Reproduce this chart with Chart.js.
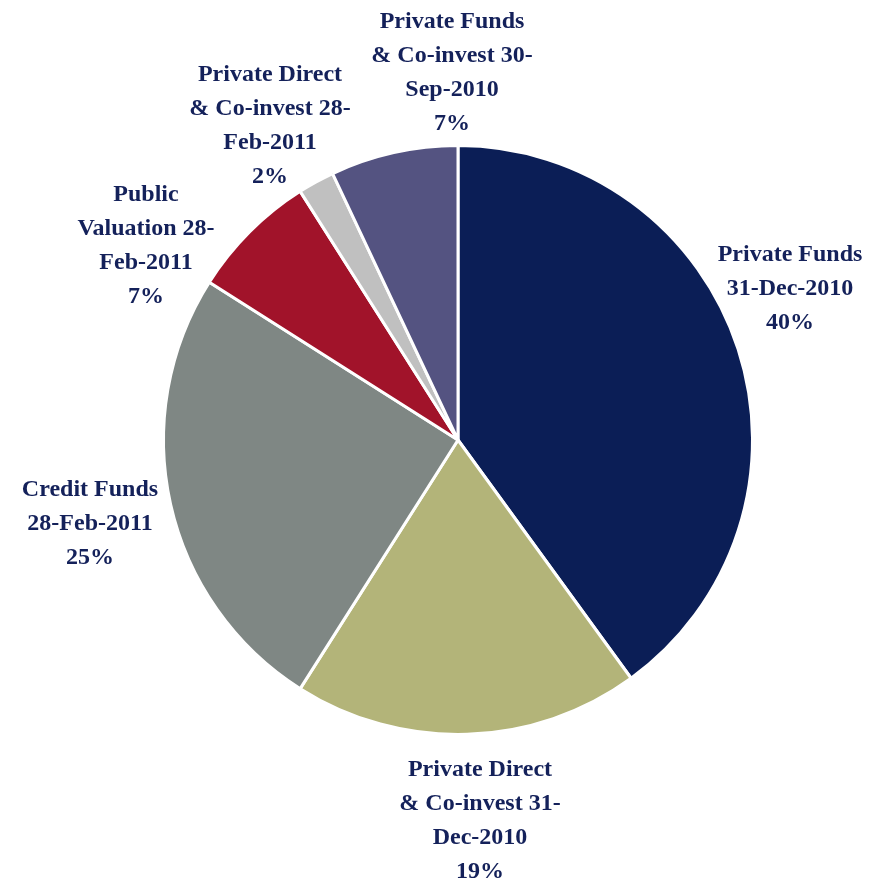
<!DOCTYPE html>
<html>
<head>
<meta charset="utf-8">
<script src="https://cdn.jsdelivr.net/npm/chart.js@4"></script>
<style>
  html, body { margin: 0; padding: 0; background: #fff; }
  #wrap { width: 876px; height: 881px; position: relative; }
</style>
</head>
<body>
<div id="wrap"><canvas id="grafico"></canvas></div>
<script>
// categorias (linhas do rótulo como no original)
const categorias = [
  ['Private Funds', '31-Dec-2010'],
  ['Private Direct', '& Co-invest 31-', 'Dec-2010'],
  ['Credit Funds', '28-Feb-2011'],
  ['Public', 'Valuation 28-', 'Feb-2011'],
  ['Private Direct', '& Co-invest 28-', 'Feb-2011'],
  ['Private Funds', '& Co-invest 30-', 'Sep-2010']
];
const percentuais = [40, 19, 25, 7, 2, 7];
const cores = ['#0b1e56', '#b3b479', '#7f8784', '#a1132a', '#c0c0c0', '#545381'];

// posição do centro de cada bloco de rótulo, relativa ao centro da pizza
const deslocRotulos = [
  [332, -151], [22, 381], [-368, 84], [-312, -194], [-188, -314], [-6, -367]
];

const rotulosPlugin = {
  id: 'rotulos',
  afterDatasetsDraw(chart) {
    const ctx = chart.ctx;
    const meta = chart.getDatasetMeta(0);
    const lh = 34;
    ctx.save();
    ctx.font = 'bold 24px "Liberation Serif", "Times New Roman", serif';
    ctx.fillStyle = '#14215a';
    ctx.textAlign = 'center';
    ctx.textBaseline = 'middle';
    meta.data.forEach((arc, i) => {
      const linhas = [...categorias[i], percentuais[i] + '%'];
      const cx = arc.x + deslocRotulos[i][0];
      const cy = arc.y + deslocRotulos[i][1];
      const y0 = cy - (linhas.length - 1) * lh / 2;
      linhas.forEach((t, k) => ctx.fillText(t, cx, y0 + k * lh));
    });
    ctx.restore();
  }
};

new Chart(document.getElementById('grafico'), {
  type: 'pie',
  data: {
    labels: categorias,
    datasets: [{
      data: percentuais,
      backgroundColor: cores,
      borderColor: '#ffffff',
      borderWidth: 3
    }]
  },
  options: {
    responsive: true,
    maintainAspectRatio: false,
    animation: false,
    layout: { padding: { left: 162, right: 122, top: 144, bottom: 145 } },
    plugins: {
      legend: { display: false },
      tooltip: { enabled: false }
    }
  },
  plugins: [rotulosPlugin]
});
</script>
</body>
</html>
